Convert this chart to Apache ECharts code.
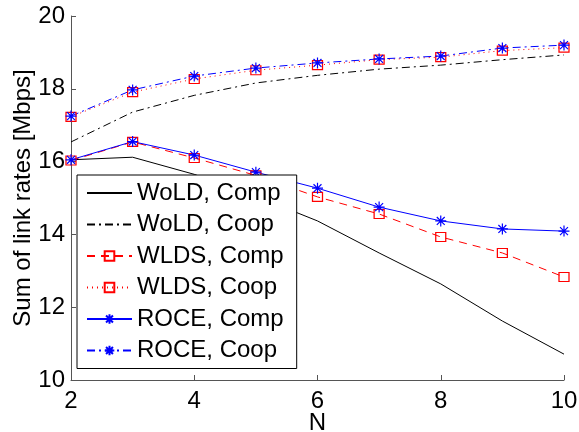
<!DOCTYPE html>
<html>
<head>
<meta charset="utf-8">
<script src="https://cdn.jsdelivr.net/npm/echarts@6/dist/echarts.min.js"></script>
<style>
html, body { margin: 0; padding: 0; background: #fff; }
#main { width: 579px; height: 432px; }
</style>
</head>
<body>
<div id="main"></div>
<script>
// N values on the x axis
var nValues = [2, 3, 4, 5, 6, 7, 8, 9, 10];

// sum of link rates [Mbps]
var woldComp = [16.05, 16.12, 15.65, 15.05, 14.37, 13.49, 12.64, 11.62, 10.71];
var woldCoop = [16.54, 17.36, 17.82, 18.16, 18.37, 18.54, 18.65, 18.80, 18.93];
var wldsComp = [16.03, 16.54, 16.10, 15.62, 15.03, 14.56, 13.93, 13.49, 12.83];
var wldsCoop = [17.23, 17.91, 18.27, 18.51, 18.65, 18.80, 18.87, 19.05, 19.13];
var roceComp = [16.05, 16.55, 16.18, 15.71, 15.27, 14.75, 14.37, 14.15, 14.09];
var roceCoop = [17.25, 17.97, 18.35, 18.57, 18.71, 18.82, 18.90, 19.12, 19.20];

var legendNames = ['WoLD, Comp', 'WoLD, Coop', 'WLDS, Comp', 'WLDS, Coop', 'ROCE, Comp', 'ROCE, Coop'];

var FONT = 'Liberation Sans, Arial, sans-serif';
// asterisk marker (MATLAB '*')
var STAR = 'path://M5,0L5,10M0,5L10,5M1.4,1.4L8.6,8.6M8.6,1.4L1.4,8.6';

function pairs(ys){
  var out = [];
  for(var i = 0; i < nValues.length; i++){
    out.push([nValues[i], ys[i]]);
  }
  return out;
}

function makeSeries(name, ys, color, dash, symbol){
  var s = {
    name: name,
    type: 'line',
    data: pairs(ys),
    animation: false,
    lineStyle: { color: color, width: 1, type: dash },
    symbol: 'none'
  };
  if(symbol == 'square'){
    s.symbol = 'rect';
    s.symbolSize = [10, 9];
    s.itemStyle = { color: 'rgba(0,0,0,0)', borderColor: color, borderWidth: 1.2 };
  } else if(symbol == 'star'){
    s.symbol = STAR;
    s.symbolSize = 11;
    s.itemStyle = { color: color, borderColor: color, borderWidth: 1.2 };
  } else {
    s.itemStyle = { color: color };
  }
  return s;
}

// legend entries; the plain black lines get no marker
var legendData = [];
for(var i = 0; i < legendNames.length; i++){
  if(i < 2){
    legendData.push({ name: legendNames[i], itemStyle: { color: 'rgba(0,0,0,0)', borderWidth: 0 } });
  } else {
    legendData.push({ name: legendNames[i] });
  }
}

var myChart = echarts.init(document.getElementById('main'));
var option = {
  backgroundColor: '#fff',
  textStyle: { fontFamily: FONT },
  grid: { left: 71, right: 15, top: 16, bottom: 52, containLabel: false, outerBoundsMode: 'none' },
  legend: {
    data: legendData,
    orient: 'vertical',
    left: 77,
    top: 175,
    backgroundColor: '#fff',
    borderColor: '#000',
    borderWidth: 1,
    padding: [6, 13, 6, 9],
    itemGap: 7.5,
    itemWidth: 45,
    itemHeight: 12,
    textStyle: { fontSize: 24, color: '#000', fontFamily: FONT, lineHeight: 24 }
  },
  xAxis: {
    type: 'value',
    min: 2,
    max: 10,
    interval: 2,
    name: 'N',
    nameLocation: 'middle',
    nameGap: 31,
    nameMoveOverlap: false,
    nameTextStyle: { fontSize: 24, color: '#000', fontFamily: FONT },
    axisLine: { lineStyle: { color: '#555', width: 1 } },
    axisTick: { inside: true, length: 5, lineStyle: { color: '#555' } },
    axisLabel: { fontSize: 24, color: '#000', margin: 9, fontFamily: FONT },
    splitLine: { show: false }
  },
  yAxis: {
    type: 'value',
    min: 10,
    max: 20,
    interval: 2,
    name: 'Sum of link rates [Mbps]',
    nameLocation: 'middle',
    nameGap: 36,
    nameMoveOverlap: false,
    nameTextStyle: { fontSize: 24, color: '#000', fontFamily: FONT },
    axisLine: { show: true, lineStyle: { color: '#555', width: 1 } },
    axisTick: { show: true, inside: true, length: 5, lineStyle: { color: '#555' } },
    axisLabel: { fontSize: 24, color: '#000', margin: 6, fontFamily: FONT },
    splitLine: { show: false }
  },
  series: [
    makeSeries('WoLD, Comp', woldComp, '#000000', 'solid', null),
    makeSeries('WoLD, Coop', woldCoop, '#000000', [8, 4, 2, 4], null),
    makeSeries('WLDS, Comp', wldsComp, '#ff0000', [8, 6], 'square'),
    makeSeries('WLDS, Coop', wldsCoop, '#ff0000', [1, 4], 'square'),
    makeSeries('ROCE, Comp', roceComp, '#0000ff', 'solid', 'star'),
    makeSeries('ROCE, Coop', roceCoop, '#0000ff', [8, 4, 2, 4], 'star')
  ]
};
myChart.setOption(option);
</script>
</body>
</html>
